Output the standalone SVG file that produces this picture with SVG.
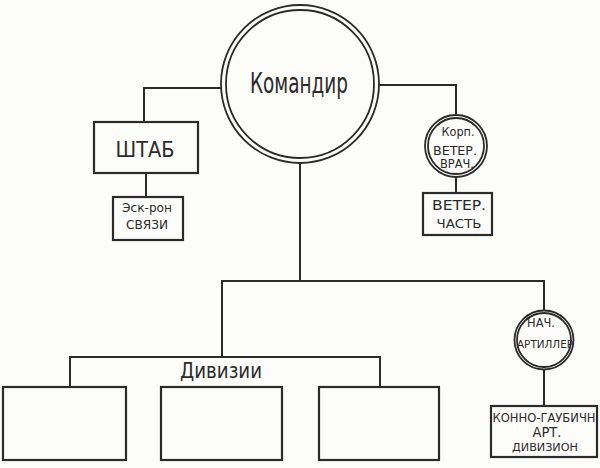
<svg xmlns="http://www.w3.org/2000/svg" width="600" height="468" viewBox="0 0 600 468">
<style>
.ln{fill:none;stroke:#2b2b2b;stroke-width:2}
.bx{fill:none;stroke:#2b2b2b;stroke-width:2.2}
.ring{fill:none;stroke:#2b2b2b;stroke-width:1.8}
text{font-family:"DejaVu Sans Condensed","DejaVu Sans","Liberation Sans",sans-serif;fill:#2b2b2b;text-anchor:middle}
</style>
<rect width="600" height="468" fill="#fcfcfa"/>
<g id="connectors">
<polyline class="ln" points="222,88 144,88 144,122"/>
<line class="ln" x1="146" y1="173" x2="146" y2="197"/>
<polyline class="ln" points="378,85 456,85 456,115"/>
<line class="ln" x1="456" y1="177" x2="456" y2="193"/>
<line class="ln" x1="300" y1="163" x2="300" y2="281"/>
<polyline class="ln" points="222,357 222,281 544,281 544,311"/>
<line class="ln" x1="544" y1="369" x2="544" y2="406"/>
<polyline class="ln" points="70,387 70,357 380,357 380,387"/>
</g>
<g id="komandir">
<circle class="ring" cx="300" cy="84" r="79"/>
<circle class="ring" cx="300" cy="84" r="74"/>
<text x="299" y="93" font-size="28" textLength="98" lengthAdjust="spacingAndGlyphs">Командир</text>
</g>
<g id="shtab">
<rect class="bx" x="94" y="122" width="104" height="51"/>
<text x="145" y="157" font-size="21" textLength="59" lengthAdjust="spacingAndGlyphs">ШТАБ</text>
</g>
<g id="eskadron">
<rect class="bx" x="113" y="197" width="70" height="43"/>
<text x="147" y="212" font-size="12" textLength="50" lengthAdjust="spacingAndGlyphs">Эск-рон</text>
<text x="147" y="229" font-size="12" textLength="42" lengthAdjust="spacingAndGlyphs">СВЯЗИ</text>
</g>
<g id="vetvrach">
<circle class="ring" cx="456" cy="146" r="31"/>
<circle class="ring" cx="456" cy="146" r="28"/>
<text x="458" y="136" font-size="13" textLength="33" lengthAdjust="spacingAndGlyphs">Корп.</text>
<text x="455" y="155" font-size="13" textLength="44" lengthAdjust="spacingAndGlyphs">ВЕТЕР.</text>
<text x="457" y="168" font-size="12" textLength="34" lengthAdjust="spacingAndGlyphs">ВРАЧ.</text>
</g>
<g id="vetchast">
<rect class="bx" x="423" y="193" width="69" height="42"/>
<text x="459" y="210" font-size="14" textLength="54" lengthAdjust="spacingAndGlyphs">ВЕТЕР.</text>
<text x="459" y="228" font-size="13" textLength="45" lengthAdjust="spacingAndGlyphs">ЧАСТЬ</text>
</g>
<g id="nachart">
<circle class="ring" cx="544" cy="340" r="29.5"/>
<circle class="ring" cx="544" cy="340" r="27"/>
<text x="541" y="327" font-size="12" textLength="28" lengthAdjust="spacingAndGlyphs">НАЧ.</text>
<text x="545" y="348" font-size="11" textLength="56" lengthAdjust="spacingAndGlyphs">АРТИЛЛЕР</text>
</g>
<g id="konnogaub">
<rect class="bx" x="491" y="406" width="106" height="51"/>
<text x="544" y="422" font-size="12" textLength="103" lengthAdjust="spacingAndGlyphs">КОННО-ГАУБИЧН</text>
<text x="547" y="437" font-size="14" textLength="29" lengthAdjust="spacingAndGlyphs">АРТ.</text>
<text x="545" y="451" font-size="11" textLength="66" lengthAdjust="spacingAndGlyphs">ДИВИЗИОН</text>
</g>
<g id="divizii-label">
<text x="221" y="378" font-size="21" textLength="82" lengthAdjust="spacingAndGlyphs">Дивизии</text>
</g>
<g id="div1"><rect class="bx" x="3" y="387" width="123" height="73"/></g>
<g id="div2"><rect class="bx" x="161" y="387" width="121" height="73"/></g>
<g id="div3"><rect class="bx" x="319" y="387" width="120" height="73"/></g>
</svg>
